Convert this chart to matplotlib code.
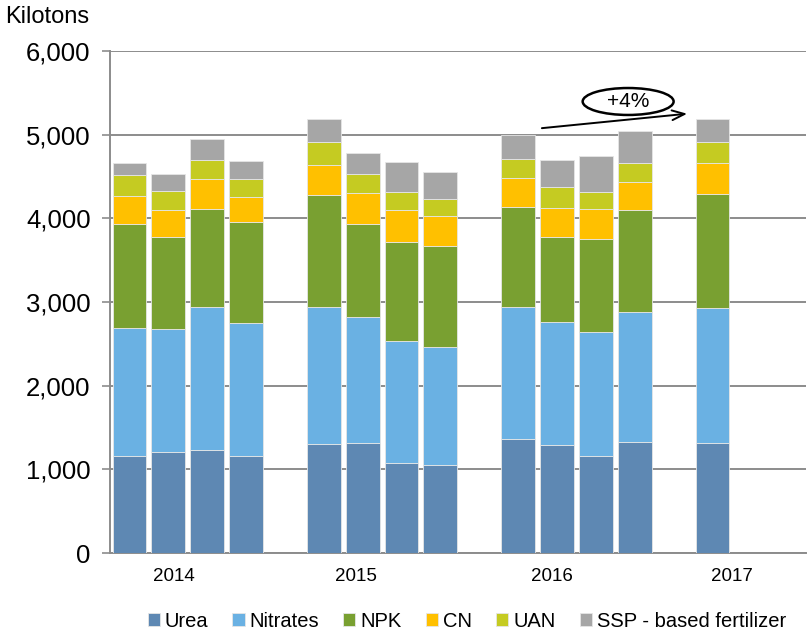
import matplotlib
matplotlib.use("Agg")
import matplotlib.pyplot as plt
from matplotlib.patches import Ellipse
from matplotlib.ticker import FuncFormatter
import numpy as np

plt.rcParams["font.family"] = ["Liberation Sans", "DejaVu Sans"]

# 분기별 값 (kilotons), 2014Q1 .. 2017Q1
periods = ["2014Q1", "2014Q2", "2014Q3", "2014Q4",
           "2015Q1", "2015Q2", "2015Q3", "2015Q4",
           "2016Q1", "2016Q2", "2016Q3", "2016Q4",
           "2017Q1"]
urea = [1166, 1206, 1238, 1166, 1307, 1318, 1072, 1048, 1364, 1297, 1165, 1325, 1313]
nitrates = [1520, 1468, 1699, 1580, 1636, 1498, 1462, 1414, 1572, 1464, 1472, 1555, 1619]
npk = [1246, 1106, 1174, 1213, 1334, 1116, 1179, 1212, 1201, 1022, 1118, 1221, 1364]
cn = [334, 319, 354, 291, 362, 373, 390, 357, 350, 346, 362, 338, 366]
uan = [251, 227, 235, 219, 273, 230, 218, 199, 227, 250, 199, 227, 250]
ssp = [143, 202, 254, 215, 271, 250, 353, 325, 286, 319, 429, 378, 279]
year_labels = ["2014", "2015", "2016", "2017"]
growth_label = "+4%"

series = [("Urea", urea, "#5E88B3"),
          ("Nitrates", nitrates, "#6AB1E3"),
          ("NPK", npk, "#79A031"),
          ("CN", cn, "#FFC000"),
          ("UAN", uan, "#C5CB22"),
          ("SSP - based fertilizer", ssp, "#A6A6A6")]

# 레이아웃: 연도 사이 빈 슬롯 하나
slots = np.array([0, 1, 2, 3, 5, 6, 7, 8, 10, 11, 12, 13, 15])
year_ticks = [1.15, 5.83, 10.87, 15.5]

fig = plt.figure(figsize=(8.09, 6.30), dpi=100)
ax = fig.add_axes([0.136, 0.122, 0.86, 0.797])

bottom = np.zeros(len(periods))
for name, vals, color in series:
    ax.bar(slots, vals, 0.87, bottom=bottom, color=color, label=name,
           edgecolor="#e6e6e6", linewidth=0.6, zorder=3)
    bottom += np.array(vals)

ax.set_xlim(-0.5, 17.4)
ax.set_ylim(0, 6000)
ax.set_yticks(np.arange(0, 6001, 1000))
ax.yaxis.set_major_formatter(FuncFormatter(lambda v, _: f"{v:,.0f}"))
ax.tick_params(axis="y", labelsize=18.5, length=6, width=1.2, color="#8c8c8c",
               pad=8)
ax.set_xticks(year_ticks)
ax.set_xticklabels(year_labels)
ax.tick_params(axis="x", labelsize=13.5, length=0, pad=11)
ax.grid(axis="y", color="#8c8c8c", lw=1.4, zorder=0)
for s in ("top", "right"):
    ax.spines[s].set_visible(False)
for s in ("left", "bottom"):
    ax.spines[s].set_color("#8c8c8c")
    ax.spines[s].set_linewidth(1.4)

fig.text(0.006, 0.955, "Kilotons", fontsize=17, ha="left", va="bottom")

# +4% 주석
ax.annotate("", xy=(14.42, 5254), xytext=(10.54, 5075),
            arrowprops=dict(arrowstyle="->,head_length=0.9,head_width=0.35",
                            color="black", lw=1.4), zorder=5)
ax.add_patch(Ellipse((12.83, 5397), 2.34, 322, facecolor="white",
                     edgecolor="black", lw=1.8, zorder=6, clip_on=False))
ax.text(12.83, 5397, growth_label, ha="center", va="center", fontsize=15,
        zorder=7)

fig.legend(loc="lower center", bbox_to_anchor=(0.577, -0.03), ncol=6,
           frameon=False, fontsize=14.5, handlelength=0.6, handleheight=0.6,
           handletextpad=0.25, columnspacing=1.2)

fig.savefig("out.png", dpi=100)
plt.close(fig)
